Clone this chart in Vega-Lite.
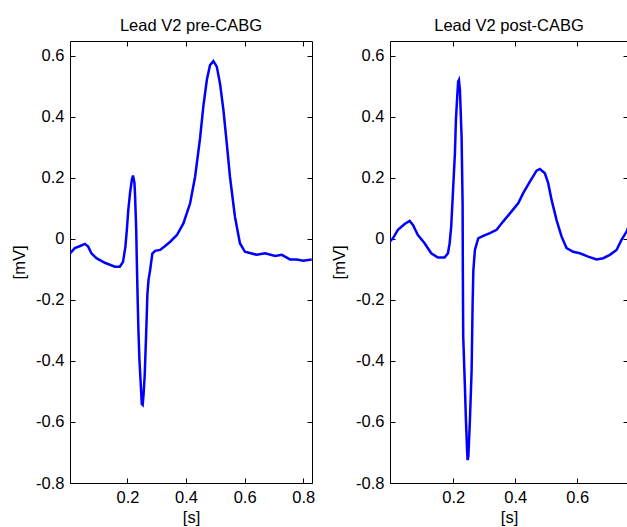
{
  "$schema": "https://vega.github.io/schema/vega-lite/v6.json",
  "padding": {"left": 11, "top": 18, "right": 0, "bottom": 0},
  "background": "white",
  "bounds": "flush",
  "spacing": 78,
  "datasets": {
    "pre": [
      {"t": 0.004, "v": -0.047}, {"t": 0.0205, "v": -0.030}, {"t": 0.0386, "v": -0.023}, {"t": 0.0546, "v": -0.016},
      {"t": 0.066, "v": -0.025}, {"t": 0.0771, "v": -0.047}, {"t": 0.0942, "v": -0.063}, {"t": 0.1229, "v": -0.078},
      {"t": 0.157, "v": -0.091}, {"t": 0.174, "v": -0.091}, {"t": 0.185, "v": -0.075}, {"t": 0.193, "v": -0.026},
      {"t": 0.198, "v": 0.030}, {"t": 0.203, "v": 0.095}, {"t": 0.209, "v": 0.151}, {"t": 0.215, "v": 0.193},
      {"t": 0.219, "v": 0.208}, {"t": 0.224, "v": 0.184}, {"t": 0.226, "v": 0.144}, {"t": 0.230, "v": 0.030},
      {"t": 0.232, "v": -0.069}, {"t": 0.235, "v": -0.200}, {"t": 0.2375, "v": -0.298}, {"t": 0.241, "v": -0.397},
      {"t": 0.246, "v": -0.485}, {"t": 0.249, "v": -0.541}, {"t": 0.252, "v": -0.544}, {"t": 0.255, "v": -0.511},
      {"t": 0.259, "v": -0.446}, {"t": 0.262, "v": -0.364}, {"t": 0.2655, "v": -0.266}, {"t": 0.268, "v": -0.184},
      {"t": 0.272, "v": -0.134}, {"t": 0.2775, "v": -0.102}, {"t": 0.285, "v": -0.048}, {"t": 0.2945, "v": -0.039},
      {"t": 0.3116, "v": -0.036}, {"t": 0.3287, "v": -0.023}, {"t": 0.346, "v": -0.009}, {"t": 0.369, "v": 0.013},
      {"t": 0.391, "v": 0.051}, {"t": 0.414, "v": 0.117}, {"t": 0.431, "v": 0.204}, {"t": 0.448, "v": 0.331},
      {"t": 0.459, "v": 0.434}, {"t": 0.471, "v": 0.521}, {"t": 0.482, "v": 0.570}, {"t": 0.4935, "v": 0.583},
      {"t": 0.505, "v": 0.565}, {"t": 0.516, "v": 0.510}, {"t": 0.5276, "v": 0.423}, {"t": 0.539, "v": 0.314},
      {"t": 0.550, "v": 0.204}, {"t": 0.567, "v": 0.073}, {"t": 0.584, "v": -0.014}, {"t": 0.601, "v": -0.042},
      {"t": 0.6416, "v": -0.052}, {"t": 0.670, "v": -0.047}, {"t": 0.704, "v": -0.056}, {"t": 0.727, "v": -0.052},
      {"t": 0.755, "v": -0.067}, {"t": 0.778, "v": -0.067}, {"t": 0.8007, "v": -0.071}, {"t": 0.829, "v": -0.067}
    ],
    "post": [
      {"t": -0.004, "v": -0.008}, {"t": 0.0055, "v": 0.002}, {"t": 0.0216, "v": 0.030}, {"t": 0.0432, "v": 0.049},
      {"t": 0.0594, "v": 0.059}, {"t": 0.070, "v": 0.046}, {"t": 0.086, "v": 0.013}, {"t": 0.1077, "v": -0.014},
      {"t": 0.129, "v": -0.047}, {"t": 0.1506, "v": -0.061}, {"t": 0.172, "v": -0.061}, {"t": 0.183, "v": -0.047},
      {"t": 0.1884, "v": -0.014}, {"t": 0.1935, "v": 0.040}, {"t": 0.200, "v": 0.171}, {"t": 0.2055, "v": 0.281},
      {"t": 0.2087, "v": 0.390}, {"t": 0.2129, "v": 0.467}, {"t": 0.216, "v": 0.516}, {"t": 0.2184, "v": 0.521},
      {"t": 0.2216, "v": 0.489}, {"t": 0.227, "v": 0.335}, {"t": 0.2303, "v": 0.117}, {"t": 0.2310, "v": -0.102},
      {"t": 0.2323, "v": -0.320}, {"t": 0.2377, "v": -0.484}, {"t": 0.241, "v": -0.593}, {"t": 0.2452, "v": -0.703},
      {"t": 0.2465, "v": -0.725}, {"t": 0.249, "v": -0.711}, {"t": 0.2539, "v": -0.593}, {"t": 0.2594, "v": -0.430},
      {"t": 0.2626, "v": -0.211}, {"t": 0.265, "v": -0.102}, {"t": 0.270, "v": -0.036}, {"t": 0.2806, "v": 0.002},
      {"t": 0.2968, "v": 0.010}, {"t": 0.3184, "v": 0.019}, {"t": 0.340, "v": 0.030}, {"t": 0.361, "v": 0.057},
      {"t": 0.383, "v": 0.084}, {"t": 0.4097, "v": 0.117}, {"t": 0.4258, "v": 0.150}, {"t": 0.4474, "v": 0.188},
      {"t": 0.469, "v": 0.224}, {"t": 0.4797, "v": 0.2295}, {"t": 0.4958, "v": 0.2154}, {"t": 0.5065, "v": 0.183},
      {"t": 0.5174, "v": 0.128}, {"t": 0.5335, "v": 0.062}, {"t": 0.5497, "v": 0.0075}, {"t": 0.5658, "v": -0.030},
      {"t": 0.587, "v": -0.042}, {"t": 0.6087, "v": -0.047}, {"t": 0.6355, "v": -0.058}, {"t": 0.6626, "v": -0.067},
      {"t": 0.684, "v": -0.063}, {"t": 0.7055, "v": -0.052}, {"t": 0.727, "v": -0.036}, {"t": 0.743, "v": -0.003},
      {"t": 0.7594, "v": 0.024}, {"t": 0.764, "v": 0.036}
    ]
  },
  "hconcat": [
    {
      "width": 242,
      "height": 442,
      "title": "Lead V2 pre-CABG",
      "data": {"name": "pre"},
      "layer": [
        {
          "mark": {"type": "line", "color": "#0000ff", "strokeWidth": 2.5, "clip": true},
          "encoding": {
            "x": {"field": "t", "type": "quantitative", "scale": {"domain": [0.004, 0.83], "nice": false, "zero": false},
                  "axis": {"orient": "bottom", "values": [0.2, 0.4, 0.6, 0.8], "format": ".1f", "title": "[s]", "titlePadding": 4}},
            "y": {"field": "v", "type": "quantitative", "scale": {"domain": [-0.8, 0.649], "nice": false, "zero": false},
                  "axis": {"orient": "left", "values": [-0.8, -0.6, -0.4, -0.2, 0, 0.2, 0.4, 0.6], "title": "[mV]", "titlePadding": 8,
                           "labelExpr": "datum.value < 0 ? '-' + format(-datum.value, '.1f') : (datum.value == 0 ? '0' : format(datum.value, '.1f'))"}}
          }
        },
        {
          "mark": {"type": "line", "strokeOpacity": 0},
          "encoding": {
            "x": {"field": "t", "type": "quantitative", "axis": {"orient": "top", "values": [0.2, 0.4, 0.6, 0.8], "labels": false, "title": null}},
            "y": {"field": "v", "type": "quantitative", "axis": {"orient": "right", "values": [-0.8, -0.6, -0.4, -0.2, 0, 0.2, 0.4, 0.6], "labels": false, "title": null}}
          }
        }
      ],
      "resolve": {"axis": {"x": "independent", "y": "independent"}}
    },
    {
      "width": 238,
      "height": 442,
      "title": "Lead V2 post-CABG",
      "data": {"name": "post"},
      "layer": [
        {
          "mark": {"type": "line", "color": "#0000ff", "strokeWidth": 2.5, "clip": true},
          "encoding": {
            "x": {"field": "t", "type": "quantitative", "scale": {"domain": [-0.004, 0.764], "nice": false, "zero": false},
                  "axis": {"orient": "bottom", "values": [0.2, 0.4, 0.6], "format": ".1f", "title": "[s]", "titlePadding": 4}},
            "y": {"field": "v", "type": "quantitative", "scale": {"domain": [-0.8, 0.649], "nice": false, "zero": false},
                  "axis": {"orient": "left", "values": [-0.8, -0.6, -0.4, -0.2, 0, 0.2, 0.4, 0.6], "title": "[mV]", "titlePadding": 8,
                           "labelExpr": "datum.value < 0 ? '-' + format(-datum.value, '.1f') : (datum.value == 0 ? '0' : format(datum.value, '.1f'))"}}
          }
        },
        {
          "mark": {"type": "line", "strokeOpacity": 0},
          "encoding": {
            "x": {"field": "t", "type": "quantitative", "axis": {"orient": "top", "values": [0.2, 0.4, 0.6], "labels": false, "title": null}},
            "y": {"field": "v", "type": "quantitative", "axis": {"orient": "right", "values": [-0.8, -0.6, -0.4, -0.2, 0, 0.2, 0.4, 0.6], "labels": false, "title": null}}
          }
        }
      ],
      "resolve": {"axis": {"x": "independent", "y": "independent"}}
    }
  ],
  "config": {
    "font": "Liberation Sans",
    "view": {"stroke": null},
    "axis": {
      "grid": false, "domainColor": "#000", "domainWidth": 1, "tickColor": "#000", "tickWidth": 1, "tickSize": -5,
      "labelFont": "Liberation Sans", "labelFontSize": 16.5, "labelColor": "#000", "labelPadding": 11,
      "titleFont": "Liberation Sans", "titleFontSize": 16.5, "titleFontWeight": "normal", "titleColor": "#000",
      "labelOverlap": false, "labelFlush": false
    },
    "title": {"font": "Liberation Sans", "fontSize": 16.5, "fontWeight": "normal", "color": "#000", "offset": 6}
  }
}
